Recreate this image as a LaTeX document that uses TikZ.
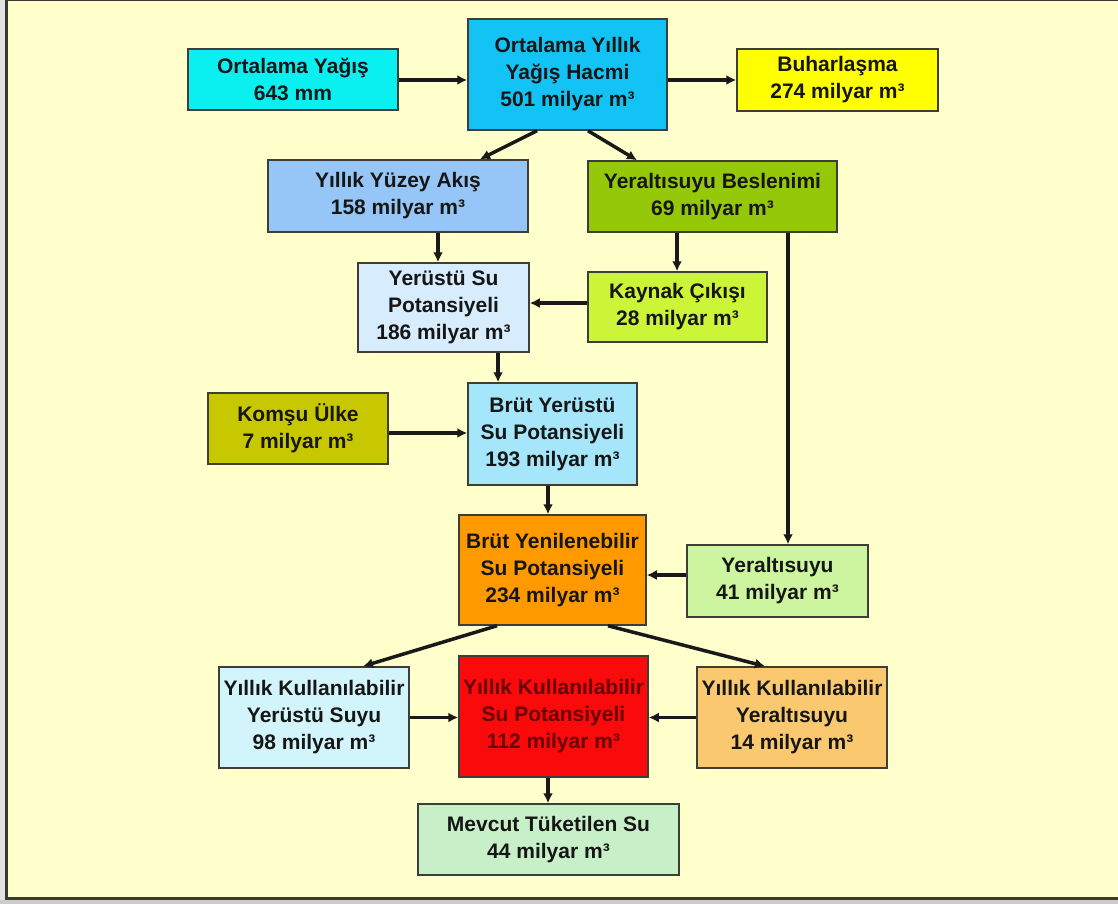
\documentclass[tikz,border=0pt]{standalone}
\usepackage{fontspec}
\setmainfont{Liberation Sans}
\usetikzlibrary{arrows.meta}
\definecolor{bg}{RGB}{255,255,204}
\definecolor{outer}{RGB}{225,225,225}
\definecolor{frameline}{RGB}{58,58,48}
\definecolor{boxline}{RGB}{60,62,55}
\definecolor{txt}{RGB}{22,22,22}
\definecolor{cOY}{RGB}{10,240,240}
\definecolor{cHacmi}{RGB}{20,195,245}
\definecolor{cBuhar}{RGB}{255,255,0}
\definecolor{cYuzey}{RGB}{150,198,248}
\definecolor{cBesl}{RGB}{150,200,10}
\definecolor{cYerustu}{RGB}{215,236,252}
\definecolor{cKaynak}{RGB}{205,245,55}
\definecolor{cKomsu}{RGB}{200,200,0}
\definecolor{cBrutYer}{RGB}{165,230,250}
\definecolor{cBrutYen}{RGB}{255,153,0}
\definecolor{cYas}{RGB}{205,245,160}
\definecolor{cKyer}{RGB}{210,245,252}
\definecolor{cKpot}{RGB}{250,10,10}
\definecolor{cKyas}{RGB}{250,200,110}
\definecolor{cMevcut}{RGB}{200,240,200}
\definecolor{darkred}{RGB}{105,0,0}
\tikzset{
  nbox/.style={draw=boxline, line width=1.5pt, align=center, inner sep=0pt,
    font=\bfseries\fontsize{21}{27}\selectfont, text=txt},
  arr/.style={-{Latex[length=10pt,width=10pt]}, line width=3.5pt, black!90},
}
\begin{document}
\begin{tikzpicture}[x=1pt,y=-1pt]
\useasboundingbox (0,0) rectangle (1118,904);
% frame
\fill[outer] (0,0) rectangle (1118,904);
\fill[bg] (6,0) rectangle (1118,898);
\draw[frameline, line width=1.5pt] (6,0.75) -- (1118,0.75);
\draw[frameline, line width=2.5pt] (6.5,0) -- (6.5,899);
\draw[frameline, line width=3pt] (5,898) -- (1118,898);
\fill[black!20] (0,900) rectangle (1118,904);
% nodes
\node[nbox, fill=cOY, minimum width=210pt, minimum height=61pt] (oy) at (293,79.5) {Ortalama Yağış\\643 mm};
\node[nbox, fill=cHacmi, minimum width=199pt, minimum height=111pt] (hacmi) at (567.5,74.5) {Ortalama Yıllık\\Yağış Hacmi\\501 milyar m³};
\node[nbox, fill=cBuhar, minimum width=201pt, minimum height=62pt] (buhar) at (837.5,80) {Buharlaşma\\274 milyar m³};
\node[nbox, fill=cYuzey, minimum width=260pt, minimum height=72pt] (yuzey) at (398,196) {Yıllık Yüzey Akış\\158 milyar m³};
\node[nbox, fill=cBesl, minimum width=249pt, minimum height=71pt] (besl) at (712.5,196.5) {Yeraltısuyu Beslenimi\\69 milyar m³};
\node[nbox, fill=cYerustu, minimum width=171pt, minimum height=89pt] (yerustu) at (443.5,307.5) {Yerüstü Su\\Potansiyeli\\186 milyar m³};
\node[nbox, fill=cKaynak, minimum width=179pt, minimum height=70pt] (kaynak) at (677.5,307) {Kaynak Çıkışı\\28 milyar m³};
\node[nbox, fill=cKomsu, minimum width=180pt, minimum height=71pt] (komsu) at (298,428.5) {Komşu Ülke\\7 milyar m³};
\node[nbox, fill=cBrutYer, minimum width=169pt, minimum height=102pt] (brutyer) at (552.5,434) {Brüt Yerüstü\\Su Potansiyeli\\193 milyar m³};
\node[nbox, fill=cBrutYen, minimum width=187pt, minimum height=110pt] (brutyen) at (552.5,570) {Brüt Yenilenebilir\\Su Potansiyeli\\234 milyar m³};
\node[nbox, fill=cYas, minimum width=181pt, minimum height=72pt] (yas41) at (777.5,581) {Yeraltısuyu\\41 milyar m³};
\node[nbox, fill=cKyer, minimum width=190pt, minimum height=101pt] (kyer) at (314,717.5) {Yıllık Kullanılabilir\\Yerüstü Suyu\\98 milyar m³};
\node[nbox, fill=cKpot, text=darkred, minimum width=189pt, minimum height=121pt] (kpot) at (553.5,716.5) {Yıllık Kullanılabilir\\Su Potansiyeli\\112 milyar m³};
\node[nbox, fill=cKyas, minimum width=190pt, minimum height=101pt] (kyas) at (792,717.5) {Yıllık Kullanılabilir\\Yeraltısuyu\\14 milyar m³};
\node[nbox, fill=cMevcut, minimum width=261pt, minimum height=71pt] (mevcut) at (548.5,839.5) {Mevcut Tüketilen Su\\44 milyar m³};
% connectors
\draw[arr] ([yshift=-0.5pt]oy.east) -- ([yshift=-5.5pt]hacmi.west);
\draw[arr] ([yshift=-5.5pt]hacmi.east) -- (buhar.west);
\draw[arr] ([xshift=-30.5pt]hacmi.south) -- ([xshift=82pt]yuzey.north);
\draw[arr] ([xshift=20.5pt]hacmi.south) -- ([xshift=-75.5pt]besl.north);
\draw[arr] ([xshift=40pt]yuzey.south) -- ([xshift=-5.5pt]yerustu.north);
\draw[arr] ([xshift=-35.5pt]besl.south) -- ([xshift=-0.5pt]kaynak.north);
\draw[arr] ([yshift=4pt]kaynak.west) -- ([yshift=4.5pt]yerustu.east);
\draw[arr] ([xshift=75.5pt]besl.south) -- ([xshift=10.5pt]yas41.north);
\draw[arr] ([xshift=54.5pt]yerustu.south) -- ([xshift=-54.5pt]brutyer.north);
\draw[arr] ([yshift=-4.5pt]komsu.east) -- ([yshift=1pt]brutyer.west);
\draw[arr] ([xshift=-4.5pt]brutyer.south) -- ([xshift=-4.5pt]brutyen.north);
\draw[arr] ([yshift=6pt]yas41.west) -- ([yshift=-5pt]brutyen.east);
\draw[arr] ([xshift=-55.5pt]brutyen.south) -- ([xshift=49pt]kyer.north);
\draw[arr] ([xshift=55.5pt]brutyen.south) -- ([xshift=-27pt]kyas.north);
\draw[arr] (kyer.east) -- (kyer.east -| kpot.west);
\draw[arr] (kyas.west) -- (kyas.west -| kpot.east);
\draw[arr] ([xshift=-5.5pt]kpot.south) -- ([xshift=-0.5pt]mevcut.north);
\end{tikzpicture}
\end{document}
